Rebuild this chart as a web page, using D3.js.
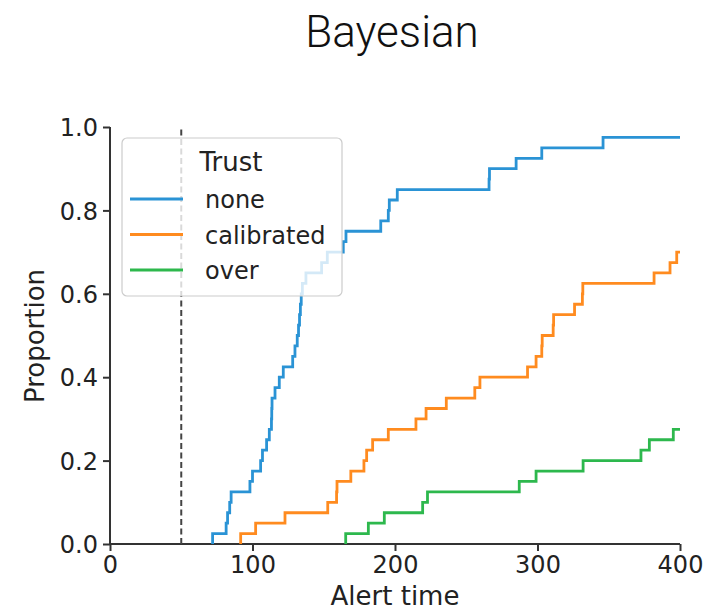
<!DOCTYPE html>
<meta charset="utf-8">
<style>
  body { margin: 0; background: #fff; }
  .tick text { font-family: "DejaVu Sans", sans-serif; font-size: 24px; fill: #222; }
  .axis path, .axis line { stroke: #333; stroke-width: 2; }
  .lab { font-family: "DejaVu Sans", sans-serif; font-size: 26px; fill: #222; }
</style>
<body></body>
<script src="https://cdn.jsdelivr.net/npm/d3@7"></script>
<script>
// alert times (each step = 1/40 of participants)
var nTotal = 40;
var noneTimes = [72, 81.5, 82.5, 84, 85, 98.2, 100, 105.7, 107, 109.9, 111.8, 113.3, 113.5, 113.7,
  115.8, 118.8, 121.6, 128.2, 129.8, 131.4, 132.3, 133, 133.6, 134.2, 135, 137.5, 148.5, 152.5,
  163.7, 165.6, 190, 195.3, 196, 201.6, 266, 266.3, 285, 303, 346];
var calibratedTimes = [91.7, 102.2, 122.8, 152.8, 159, 159.3, 169, 178.2, 180.1, 184.3, 195.3,
  214.7, 221.8, 236, 256, 259.6, 293, 299, 303, 303.3, 311, 311.3, 326, 331.5, 331.8, 381.8, 393, 397.7];
var overTimes = [165.4, 181.3, 192.5, 219.4, 222.8, 287.2, 299, 332, 372.6, 378.5, 395.3];

var trustNames = ["none", "calibrated", "over"];
var trustColors = ["#2a93d5", "#ff8b1f", "#2db84d"];
var xTicks = [0, 100, 200, 300, 400];
var yTicks = [0, 0.2, 0.4, 0.6, 0.8, 1.0];
var xMax = 400;
var alertLine = 50;

var svg = d3.select("body").append("svg")
    .attr("width", 706).attr("height", 613);

var x = d3.scaleLinear().domain([0, 400]).range([110, 680]);
var y = d3.scaleLinear().domain([0, 1]).range([544, 127]);

// title
svg.append("text")
    .attr("x", 392).attr("y", 47)
    .attr("text-anchor", "middle")
    .style("font-family", "Roboto, 'Liberation Sans', sans-serif")
    .style("font-weight", 300)
    .style("font-size", "44px")
    .style("fill", "#111")
    .text("Bayesian");

// axes
var xAxis = svg.append("g").attr("class", "axis")
    .attr("transform", "translate(0,544)")
    .call(d3.axisBottom(x).tickValues(xTicks).tickSize(7).tickPadding(5).tickFormat(d3.format("d")));
var yAxis = svg.append("g").attr("class", "axis")
    .attr("transform", "translate(110,0)")
    .call(d3.axisLeft(y).tickValues(yTicks).tickSize(7).tickPadding(5).tickFormat(d3.format(".1f")));
xAxis.select(".domain").attr("d", "M110,0H680");
yAxis.select(".domain").attr("d", "M0,544V127");
yAxis.selectAll(".tick text").attr("dy", "0.36em");

svg.append("text").attr("class", "lab")
    .attr("x", 395).attr("y", 605)
    .attr("text-anchor", "middle")
    .text("Alert time");
svg.append("text").attr("class", "lab")
    .attr("transform", "translate(44,336) rotate(-90)")
    .attr("text-anchor", "middle")
    .text("Proportion");

// dashed reference line
svg.append("line")
    .attr("x1", x(alertLine)).attr("x2", x(alertLine))
    .attr("y1", y(0)).attr("y2", y(1))
    .attr("stroke", "#444").attr("stroke-width", 2)
    .attr("stroke-dasharray", "6,3.5");

// step lines
var line = d3.line()
    .x(function(d) { return x(d[0]); })
    .y(function(d) { return y(d[1]); })
    .curve(d3.curveStepAfter);

function ecdf(times) {
    var pts = [[times[0], 0]];
    times.forEach(function(t, i) { pts.push([t, (i + 1) / nTotal]); });
    pts.push([xMax, times.length / nTotal]);
    return pts;
}

[noneTimes, calibratedTimes, overTimes].forEach(function(times, i) {
    svg.append("path")
        .datum(ecdf(times))
        .attr("fill", "none")
        .attr("stroke", trustColors[i])
        .attr("stroke-width", 2.8)
        .attr("d", line);
});

// legend
var leg = svg.append("g");
leg.append("rect")
    .attr("x", 122).attr("y", 138).attr("width", 220).attr("height", 158)
    .attr("rx", 5)
    .attr("fill", "#fff").attr("fill-opacity", 0.8)
    .attr("stroke", "#ccc").attr("stroke-width", 1.2);
leg.append("text")
    .attr("x", 231).attr("y", 171)
    .attr("text-anchor", "middle")
    .style("font-family", "DejaVu Sans, sans-serif")
    .style("font-size", "26px").style("fill", "#222")
    .text("Trust");
trustNames.forEach(function(name, i) {
    var yy = 199 + i * 35.5;
    leg.append("line")
        .attr("x1", 130).attr("x2", 183)
        .attr("y1", yy).attr("y2", yy)
        .attr("stroke", trustColors[i]).attr("stroke-width", 2.8);
    leg.append("text")
        .attr("x", 205).attr("y", yy + 9)
        .style("font-family", "DejaVu Sans, sans-serif")
        .style("font-size", "24px").style("fill", "#222")
        .text(name);
});
</script>
